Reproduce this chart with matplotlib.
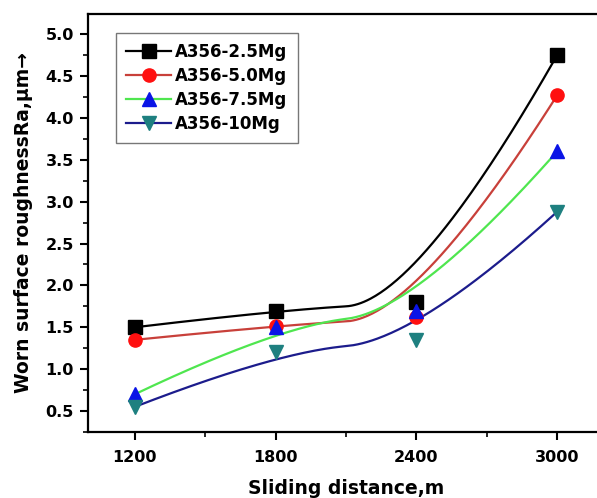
import numpy as np
import matplotlib
matplotlib.use("Agg")
import matplotlib.pyplot as plt
from matplotlib.lines import Line2D
from matplotlib.ticker import MultipleLocator

plt.rcParams['font.family'] = ['DejaVu Sans']
plt.rcParams['font.weight'] = 'bold'

distance = [1200, 1800, 2400, 3000]
series_names = ["A356-2.5Mg", "A356-5.0Mg", "A356-7.5Mg", "A356-10Mg"]
mg25 = [1.50, 1.70, 1.80, 4.75]
mg50 = [1.35, 1.52, 1.62, 4.27]
mg75 = [0.70, 1.50, 1.70, 3.60]
mg10 = [0.55, 1.20, 1.35, 2.88]

line_colors = ["#000000", "#c8403a", "#4fe64f", "#1c1c8c"]
marker_colors = ["#000000", "#ff1010", "#0a14e6", "#1e8080"]
markers = ["s", "o", "^", "v"]


def bspline2(xs, ys, n=100):
    # clamped quadratic B-spline using the points as control polygon
    p = np.column_stack([xs, ys]).astype(float)
    mid = (p[1] + p[2]) / 2
    segs = [(p[0], p[1], mid), (mid, p[2], p[3])]
    t = np.linspace(0, 1, n)[:, None]
    out = []
    for a, b, c in segs:
        out.append((1 - t) ** 2 * a + 2 * t * (1 - t) * b + t ** 2 * c)
    out = np.vstack(out)
    return out[:, 0], out[:, 1]


fig = plt.figure(figsize=(5.97, 4.98), dpi=100)
ax = fig.add_axes([0.147, 0.1325, 0.865, 0.8395])

handles = []
for vals, name, lc, mc, mk in zip([mg25, mg50, mg75, mg10], series_names,
                                  line_colors, marker_colors, markers):
    cx, cy = bspline2(distance, vals)
    ax.plot(cx, cy, color=lc, lw=1.6, zorder=2)
    ax.plot(distance, vals, linestyle='none', marker=mk, color=mc,
            markersize=9.5, zorder=3)
    handles.append(Line2D([], [], color=lc, lw=1.6, marker=mk, mfc=mc,
                          mec=mc, markersize=9.5, label=name))

ax.set_xlim(1000, 3200)
ax.set_ylim(0.25, 5.24)
ax.set_xticks(distance)
ax.xaxis.set_minor_locator(MultipleLocator(300))
ax.yaxis.set_major_locator(MultipleLocator(0.5))
ax.yaxis.set_minor_locator(MultipleLocator(0.25))
ax.tick_params(which='major', direction='out', length=6, width=1.5,
               labelsize=11.5, pad=4)
ax.tick_params(axis='x', which='major', pad=7)
ax.tick_params(which='minor', direction='out', length=3.5, width=1.2)
for lab in ax.get_xticklabels() + ax.get_yticklabels():
    lab.set_fontweight('bold')
for s in ax.spines.values():
    s.set_linewidth(1.6)

ax.set_xlabel("Sliding distance,m", fontsize=13.5, fontweight='bold',
              labelpad=10)
ax.set_ylabel("Worn surface roughnessRa,\u03bcm\u2192", fontsize=13.5,
              fontweight='bold', labelpad=9)

leg = ax.legend(handles=handles, loc='upper left',
                bbox_to_anchor=(0.055, 0.955), fontsize=12,
                handlelength=2.7, handletextpad=0.25, labelspacing=0.37,
                borderpad=0.6, borderaxespad=0, fancybox=False, framealpha=1)
leg.get_frame().set_edgecolor('#777777')
leg.get_frame().set_linewidth(1.0)
for t in leg.get_texts():
    t.set_fontweight('bold')

fig.savefig("out.png", dpi=100)
